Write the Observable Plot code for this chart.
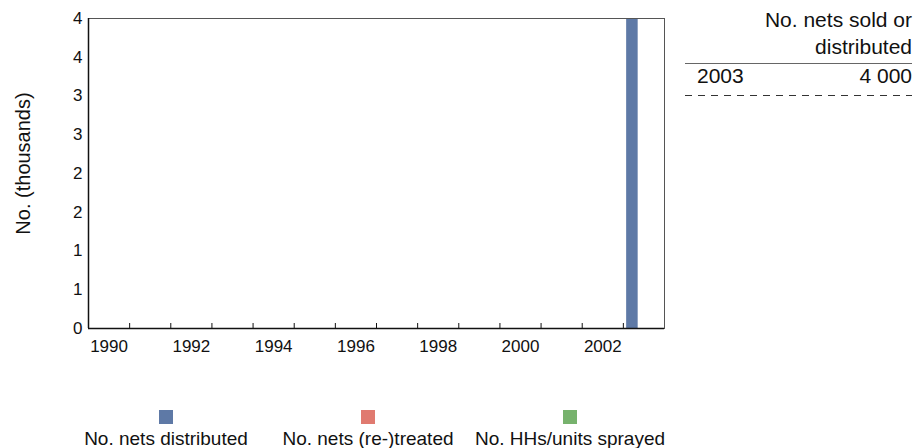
<!DOCTYPE html>
<html>
<head>
<meta charset="utf-8">
<script src="https://cdn.jsdelivr.net/npm/d3@7"></script>
<script src="https://cdn.jsdelivr.net/npm/@observablehq/plot@0.6"></script>
<style>
  html, body { margin: 0; padding: 0; background: #fff; }
  body { font-family: "Liberation Sans", Arial, sans-serif; color: #111; }
  #page { position: relative; width: 915px; height: 448px; overflow: hidden; }
  #chart svg { display: block; }
  #legend { position: relative; height: 53px; }
  .item { position: absolute; top: 0; width: 202px; text-align: center; }
  .sw { width: 14px; height: 14px; margin: 15px auto 0 auto; }
  .lab { margin-top: 5px; font-size: 19px; line-height: 19px; white-space: nowrap; }
  #table { position: absolute; left: 685px; top: 0; width: 227px; font-size: 21px; }
  #thead { margin-top: 6px; text-align: right; line-height: 27px; }
  #hline { margin-top: 3px; height: 1px; background: #666; }
  #row { display: flex; justify-content: space-between; line-height: 24px; padding-left: 12px; }
  #dline { margin-top: 7px; height: 1px; background: repeating-linear-gradient(to right, #333 0 7px, transparent 7px 13px); }
</style>
</head>
<body>
<div id="page">
  <div id="chart"></div>
  <div id="legend"></div>
  <div id="table"></div>
</div>
<script>
// ---- data ----
const yearDomain = [1990, 1991, 1992, 1993, 1994, 1995, 1996, 1997, 1998, 1999, 2000, 2001, 2002, 2003];
const xTickYears = [1990, 1992, 1994, 1996, 1998, 2000, 2002];
const yTicks = [0, 0.5, 1, 1.5, 2, 2.5, 3, 3.5, 4];
const yTickLabels = ["0", "1", "1", "2", "2", "3", "3", "4", "4"];
const seriesNames = ["No. nets distributed", "No. nets (re-)treated", "No. HHs/units sprayed"];
const seriesColors = ["#5e79a6", "#e07a70", "#77b26d"];
const dataYears = [2003];
const netsDistributed = [4000];
const netsTreated = [null];
const unitsSprayed = [null];
const tableHeader = ["No. nets sold or", "distributed"];
const tableYears = ["2003"];
const tableValues = ["4 000"];
const yLabel = "No. (thousands)";

// ---- build rows ----
const seriesValues = [netsDistributed, netsTreated, unitsSprayed];
const rows = [];
seriesNames.forEach((s, i) => {
  dataYears.forEach((yr, j) => {
    const v = seriesValues[i][j];
    if (v != null) rows.push({year: yr, series: s, idx: i, value: v});
  });
});

const groupPad = 0.08;
const barW = (1 - 2 * groupPad) / seriesNames.length;
const boundaries = yearDomain.slice(0, -1).map(y => y + 0.5);

const plot = Plot.plot({
  width: 915,
  height: 395,
  marginTop: 18,
  marginBottom: 67,
  marginLeft: 88,
  marginRight: 251,
  style: {fontFamily: '"Liberation Sans", Arial, sans-serif', fontSize: "17px", color: "#111", background: "#fff"},
  x: {domain: [yearDomain[0] - 0.5, yearDomain[yearDomain.length - 1] + 0.5]},
  y: {domain: [0, 4]},
  color: {domain: seriesNames, range: seriesColors},
  marks: [
    Plot.rectY(rows, {
      x1: d => d.year - 0.5 + groupPad + d.idx * barW,
      x2: d => d.year - 0.5 + groupPad + (d.idx + 1) * barW,
      y1: 0,
      y2: d => d.value / 1000,
      fill: "series"
    }),
    Plot.frame({stroke: "#555", strokeWidth: 1}),
    Plot.ruleY([0], {stroke: "#111", strokeWidth: 1.5}),
    Plot.ruleX([yearDomain[0] - 0.5], {stroke: "#111", strokeWidth: 1.5}),
    Plot.ruleX(boundaries, {insetTop: 305, stroke: "#111"}),
    Plot.axisX({ticks: xTickYears, tickSize: 0, tickPadding: 11, tickFormat: d => String(d), label: null}),
    Plot.axisY({ticks: yTicks, tickSize: 0, tickPadding: 6, tickFormat: d => yTickLabels[yTicks.indexOf(d)], label: null}),
    Plot.text([yLabel], {frameAnchor: "left", textAnchor: "middle", rotate: -90, dx: -65, dy: -10, fontSize: 20, fill: "#111"})
  ]
});
document.getElementById("chart").appendChild(plot);

// ---- legend ----
const legend = document.getElementById("legend");
seriesNames.forEach((s, i) => {
  const it = document.createElement("div");
  it.className = "item";
  it.style.left = (65 + i * 202) + "px";
  it.innerHTML = `<div class="sw" style="background:${seriesColors[i]}"></div><div class="lab">${s}</div>`;
  legend.appendChild(it);
});

// ---- table ----
const table = document.getElementById("table");
table.innerHTML = `<div id="thead">${tableHeader.join("<br>")}</div><div id="hline"></div>` +
  tableYears.map((y, i) => `<div id="row"><span>${y}</span><span>${tableValues[i]}</span></div>`).join("") +
  `<div id="dline"></div>`;
</script>
</body>
</html>
